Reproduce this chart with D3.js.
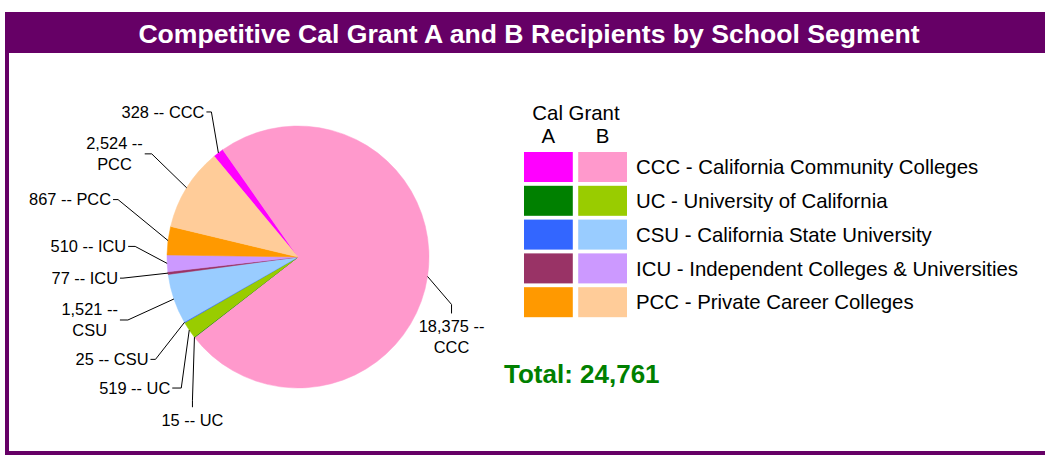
<!DOCTYPE html>
<html>
<head>
<meta charset="utf-8">
<script src="https://cdn.jsdelivr.net/npm/d3@7"></script>
<style>
  body { margin: 0; background: #fff; }
  svg { display: block; font-family: "Liberation Sans", Arial, sans-serif; }
</style>
</head>
<body>
<svg id="chart" width="1045" height="455"></svg>
<script>
// data
const segments = ["CCC", "UC", "CSU", "ICU", "PCC"]
const segmentNames = ["California Community Colleges", "University of California", "California State University", "Independent Colleges & Universities", "Private Career Colleges"]
const grantA = [328, 15, 25, 77, 867]
const grantB = [18375, 519, 1521, 510, 2524]
const grantLabels = ["A", "B"]
const title = "Competitive Cal Grant A and B Recipients by School Segment"

// styles
const colorsA = ["#ff00ff", "#008000", "#3366ff", "#993366", "#ff9900"]
const colorsB = ["#ff99cc", "#99cc00", "#99ccff", "#cc99ff", "#ffcc99"]
const purple = "#660066"

// label layout: offset from the slice's outer point to the label end of the leader
const labelOffsets = {
    "CCC-A": {dx: -12, dy: -41, side: "left", hook: 5},
    "CCC-B": {dx: 24, dy: 37, side: "below", hook: 9, wrap: true},
    "UC-A": {dx: -2, dy: 70, side: "below", hook: 7},
    "UC-B": {dx: -17, dy: 58, side: "left", hook: 9},
    "CSU-A": {dx: -34, dy: 37, side: "left", hook: 5},
    "CSU-B": {dx: -54, dy: 21, side: "left", hook: 8, wrap: true},
    "ICU-A": {dx: -48, dy: 5, side: "left", hook: 3},
    "ICU-B": {dx: -39, dy: -17, side: "left", hook: 7},
    "PCC-A": {dx: -55, dy: -41, side: "left", hook: 5},
    "PCC-B": {dx: -42, dy: -34, side: "left", hook: 7, wrap: true}
}

const svg = d3.select("#chart")
const fmt = d3.format(",")

// frame + title bar
svg.append("rect").attr("x", 5).attr("y", 12).attr("width", 1040).attr("height", 41).attr("fill", purple)
svg.append("rect").attr("x", 5).attr("y", 12).attr("width", 4).attr("height", 443).attr("fill", purple)
svg.append("rect").attr("x", 5).attr("y", 451).attr("width", 1040).attr("height", 4).attr("fill", purple)
svg.append("text")
    .attr("x", 529).attr("y", 42.5)
    .attr("text-anchor", "middle")
    .attr("fill", "#fff")
    .attr("font-weight", "bold")
    .attr("font-size", "26.6px")
    .text(title)

// pie
const slices = segments.flatMap((s, i) => [
    {seg: s, grant: "A", value: grantA[i], color: colorsA[i]},
    {seg: s, grant: "B", value: grantB[i], color: colorsB[i]}
])

const cx = 298, cy = 257, radius = 131
const startAngle = -39.8 * Math.PI / 180

const pie = d3.pie().sort(null).value(d => d.value)
    .startAngle(startAngle).endAngle(startAngle + 2 * Math.PI)
const arc = d3.arc().innerRadius(0).outerRadius(radius)
const arcs = pie(slices)

const g = svg.append("g").attr("transform", `translate(${cx},${cy})`)

g.selectAll("path.slice")
    .data(arcs)
    .join("path")
    .attr("class", "slice")
    .attr("d", arc)
    .attr("fill", d => d.data.color)
    .attr("stroke", d => d.data.color)
    .attr("stroke-width", 0.5)

// leader lines + labels
const labelSize = 16.4
const lineGap = 20.5

arcs.forEach(d => {
    const key = d.data.seg + "-" + d.data.grant
    const lo = labelOffsets[key]
    const mid = (d.startAngle + d.endAngle) / 2
    const ex = radius * Math.sin(mid), ey = -radius * Math.cos(mid)
    const lx = ex + lo.dx, ly = ey + lo.dy
    const elbow = lo.side === "left" ? [lx + lo.hook, ly] : [lx, ly - lo.hook]

    g.append("polyline")
        .attr("points", [[lx, ly], elbow, [ex, ey]].map(p => p.join(",")).join(" "))
        .attr("fill", "none")
        .attr("stroke", "#000")
        .attr("stroke-width", 1)

    const lines = lo.wrap
        ? [fmt(d.data.value) + " --", d.data.seg]
        : [fmt(d.data.value) + " -- " + d.data.seg]

    const t = g.append("text")
        .attr("font-size", labelSize + "px")
        .attr("fill", "#000")

    if (lo.side === "left") {
        if (lines.length === 1) {
            t.attr("text-anchor", "end")
                .append("tspan").attr("x", lx - 2).attr("y", ly).attr("dy", "0.35em").text(lines[0])
        } else {
            // centered block whose right edge sits at the leader end
            const tmp = g.append("text").attr("font-size", labelSize + "px").text(lines[0])
            const w = tmp.node().getComputedTextLength()
            tmp.remove()
            const tx = lx - 2 - w / 2
            t.attr("text-anchor", "middle")
            lines.forEach((s, i) => {
                t.append("tspan").attr("x", tx)
                    .attr("y", ly + (i - (lines.length - 1) / 2) * lineGap)
                    .attr("dy", "0.35em").text(s)
            })
        }
    } else {
        t.attr("text-anchor", "middle")
        lines.forEach((s, i) => {
            t.append("tspan").attr("x", lx)
                .attr("y", ly + 13 + i * lineGap)
                .attr("dy", "0.35em").text(s)
        })
    }
})

// legend
const legendSize = 20.4
const colX = d3.scaleBand().domain(grantLabels).range([524, 627]).paddingInner(0.1)
const rowY = d3.scaleBand().domain(segments).range([152, 317.2]).paddingInner(0.112)

const legend = svg.append("g").attr("font-size", legendSize + "px").attr("fill", "#000")

legend.append("text")
    .attr("x", 576).attr("y", 113).attr("dy", "0.35em")
    .attr("text-anchor", "middle")
    .text("Cal Grant")

legend.selectAll("text.grant")
    .data(grantLabels)
    .join("text")
    .attr("class", "grant")
    .attr("x", d => colX(d) + colX.bandwidth() / 2)
    .attr("y", 136).attr("dy", "0.35em")
    .attr("text-anchor", "middle")
    .text(d => d)

segments.forEach((s, i) => {
    legend.append("rect")
        .attr("x", colX("A")).attr("y", rowY(s))
        .attr("width", colX.bandwidth()).attr("height", rowY.bandwidth())
        .attr("fill", colorsA[i])
    legend.append("rect")
        .attr("x", colX("B")).attr("y", rowY(s))
        .attr("width", colX.bandwidth()).attr("height", rowY.bandwidth())
        .attr("fill", colorsB[i])
    legend.append("text")
        .attr("x", 636).attr("y", rowY(s) + rowY.bandwidth() / 2).attr("dy", "0.35em")
        .text(s + " - " + segmentNames[i])
})

// total
const total = d3.sum(grantA) + d3.sum(grantB)
svg.append("text")
    .attr("x", 504).attr("y", 382.5)
    .attr("font-size", "26px")
    .attr("font-weight", "bold")
    .attr("fill", "#008000")
    .text("Total: " + fmt(total))
</script>
</body>
</html>
